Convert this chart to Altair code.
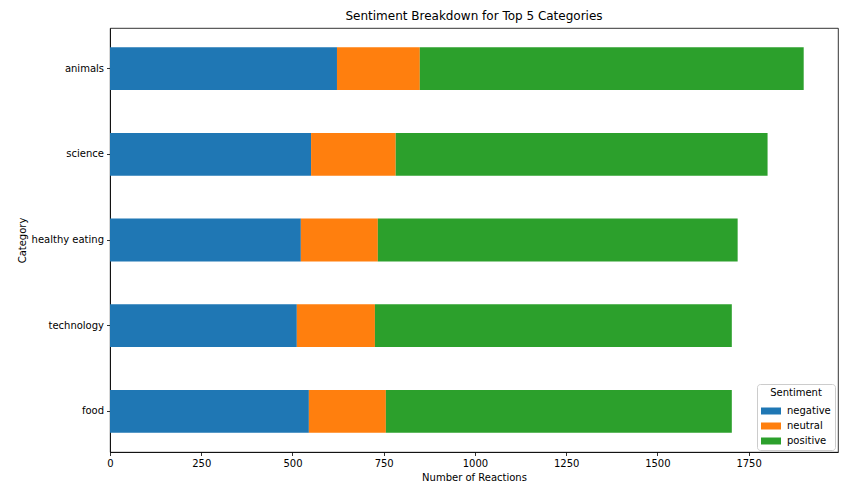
import altair as alt
import pandas as pd

categories = ["animals", "science", "healthy eating", "technology", "food"]
sentiments = ["negative", "neutral", "positive"]
negative = [622, 551, 523, 512, 545]
neutral = [227, 232, 211, 214, 211]
positive = [1052, 1019, 986, 978, 948]
colors = ["#1f77b4", "#ff7f0e", "#2ca02c"]
x_ticks = [0, 250, 500, 750, 1000, 1250, 1500, 1750]

rows = []
for i, c in enumerate(categories):
    for j, (s, vals) in enumerate(zip(sentiments, [negative, neutral, positive])):
        rows.append({"Category": c, "Sentiment": s, "Reactions": vals[i], "order": j})
df = pd.DataFrame(rows)

FONT = "DejaVu Sans"

chart = (
    alt.Chart(df)
    .mark_bar()
    .encode(
        x=alt.X(
            "Reactions:Q",
            stack="zero",
            title="Number of Reactions",
            scale=alt.Scale(domain=[0, 1995], nice=False, zero=True),
            axis=alt.Axis(values=x_ticks, grid=False, format="d", labelFlush=False),
        ),
        y=alt.Y(
            "Category:N",
            sort=categories,
            title="Category",
            scale=alt.Scale(paddingInner=0.5, paddingOuter=0.225),
            axis=alt.Axis(grid=False),
        ),
        color=alt.Color(
            "Sentiment:N",
            sort=sentiments,
            scale=alt.Scale(domain=sentiments, range=colors),
            legend=alt.Legend(
                title="Sentiment",
                orient="none",
                legendX=647,
                legendY=356,
                symbolType="M-1,-0.35L1,-0.35L1,0.35L-1,0.35Z",
                symbolSize=400,
                symbolStrokeWidth=0,
                titleAnchor="middle",
                strokeColor="#cccccc",
                fillColor="white",
                padding=4,
                cornerRadius=3,
                rowPadding=0,
                labelFontSize=10,
                titleFontSize=10,
                titleFontWeight="normal",
                titleFont=FONT,
                labelFont=FONT,
                labelColor="#000000",
                titleColor="#000000",
                labelOffset=6,
                titlePadding=3,
            ),
        ),
        order=alt.Order("order:Q"),
    )
    .properties(
        width=728,
        height=424,
        title=alt.TitleParams(
            "Sentiment Breakdown for Top 5 Categories",
            font=FONT,
            fontSize=12,
            fontWeight="normal",
            color="#000000",
            anchor="middle",
            offset=5,
        ),
        autosize=alt.AutoSizeParams(type="none"),
        padding={"left": 102, "top": 20, "right": 2, "bottom": 36},
    )
    .configure_view(stroke="#000000", strokeWidth=0.8)
    .configure_axis(
        labelFont=FONT,
        titleFont=FONT,
        labelFontSize=10,
        titleFontSize=10,
        titleFontWeight="normal",
        labelColor="#000000",
        titleColor="#000000",
        domainColor="#000000",
        domainWidth=0.8,
        tickColor="#000000",
        tickWidth=0.8,
        tickSize=3.5,
        labelPadding=3,
        titlePadding=4,
    )
)

chart.save("out.html", embed_options={"renderer": "svg", "actions": False})
